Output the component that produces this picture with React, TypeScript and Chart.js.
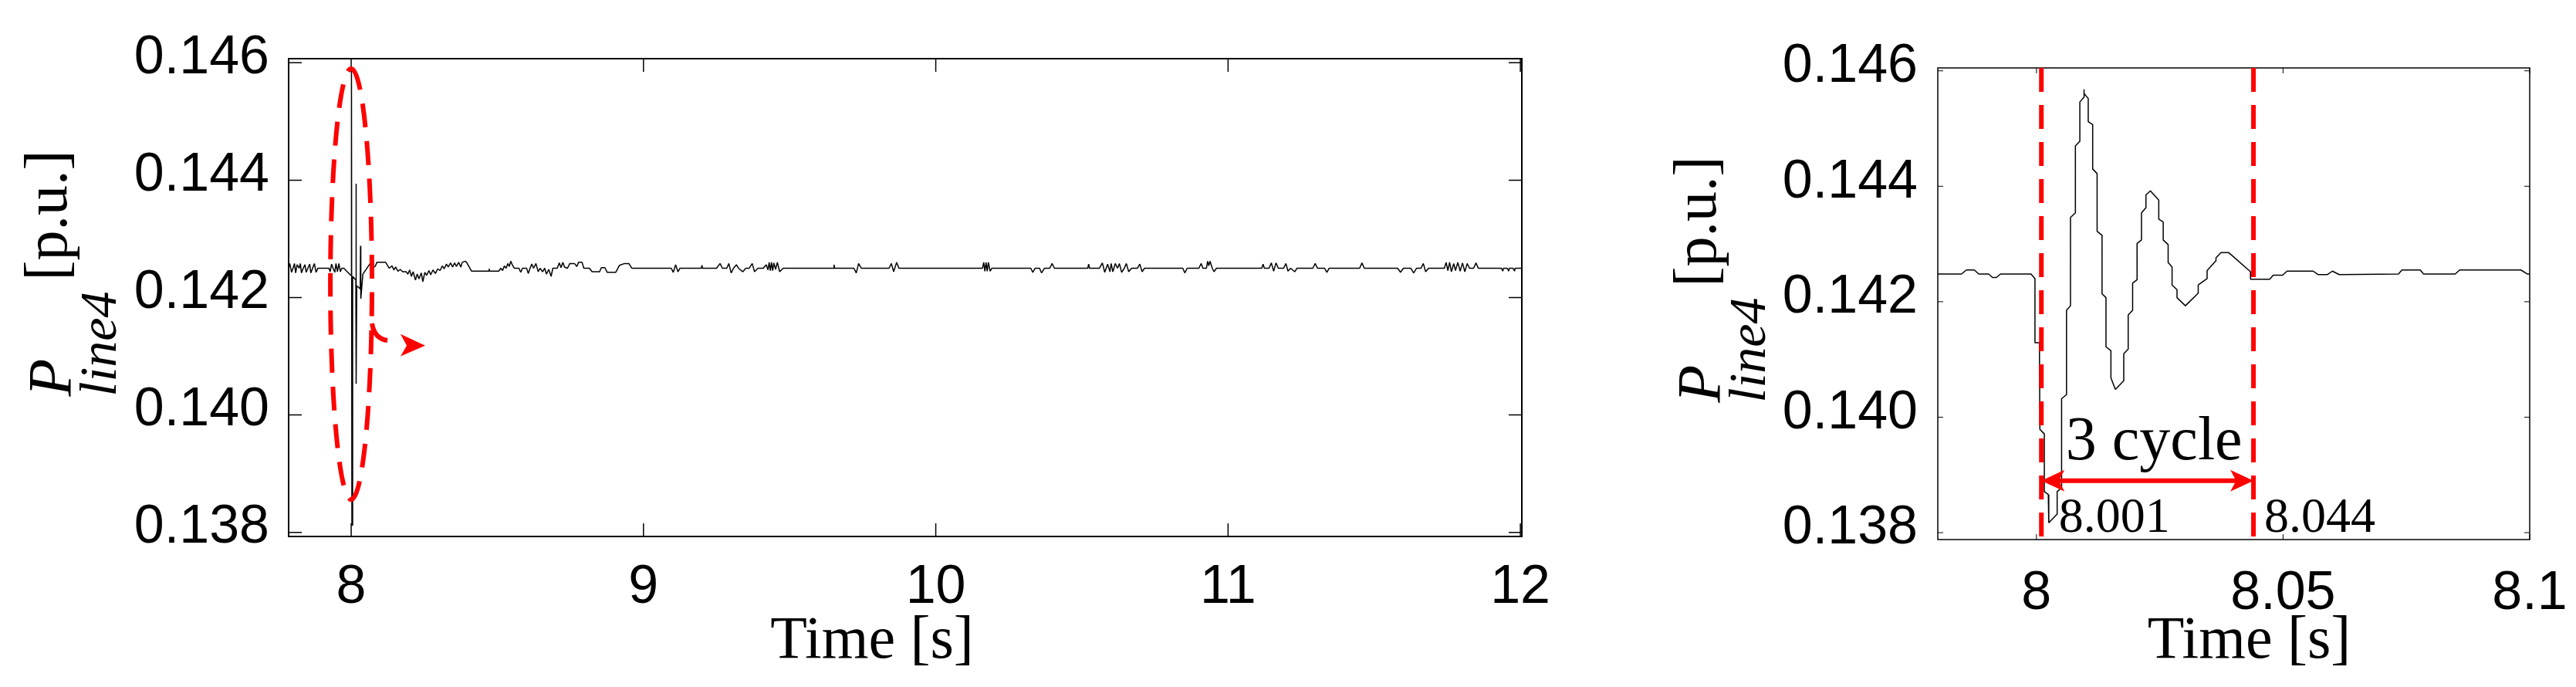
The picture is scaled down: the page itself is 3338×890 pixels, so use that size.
import React, { useEffect, useRef } from 'react';
import { Chart, registerables } from 'chart.js';

Chart.register(...registerables);

const SANS = "'Liberation Sans', Arial, sans-serif";
const SERIF = "'Liberation Serif', 'Times New Roman', serif";
const RED = '#ff0000';

// ---------- data: overview (7.8 s .. 12 s), pairs of [time s, P p.u.] ----------
const overviewBefore: [number, number][] = [
  [7.786, 0.1425], [7.79, 0.14258], [7.796, 0.14243], [7.801, 0.1425], [7.806, 0.14258], [7.81, 0.14242],
  [7.815, 0.14256], [7.822, 0.1425], [7.826, 0.14258], [7.83, 0.14242], [7.836, 0.1425], [7.842, 0.14256],
  [7.846, 0.14243], [7.852, 0.1425], [7.858, 0.14257], [7.862, 0.14242], [7.868, 0.1425], [7.874, 0.14258],
  [7.88, 0.14243], [7.886, 0.1425], [7.924, 0.1425], [7.928, 0.14244], [7.933, 0.14257], [7.938, 0.1425],
  [7.944, 0.14243], [7.948, 0.14258], [7.953, 0.14244], [7.958, 0.14258], [7.963, 0.14244], [7.968, 0.1425],
  [7.975, 0.1425], [7.998, 0.14238],
];
const overviewFault: [number, number][] = [
  [8.0, 0.14238], [8.001, 0.14592], [8.0025, 0.13812], [8.005, 0.14236], [8.016, 0.1423], [8.0165, 0.14394],
  [8.0175, 0.14053], [8.019, 0.1422], [8.031, 0.14215], [8.032, 0.14288], [8.033, 0.14198], [8.04, 0.1424],
  [8.065, 0.14258],
];
const overviewAfter: [number, number][] = [
  [8.07, 0.14259], [8.075, 0.14252], [8.082, 0.14253], [8.088, 0.1426], [8.118, 0.1426], [8.13, 0.1425],
  [8.14, 0.14254], [8.146, 0.14247], [8.152, 0.14252], [8.16, 0.14245], [8.168, 0.14248], [8.176, 0.14244],
  [8.188, 0.14244], [8.194, 0.1424], [8.2, 0.14247], [8.206, 0.14236], [8.212, 0.14244], [8.22, 0.1423],
  [8.226, 0.1424], [8.232, 0.14232], [8.24, 0.14242], [8.245, 0.14227], [8.252, 0.14243], [8.258, 0.14238],
  [8.266, 0.14246], [8.272, 0.14239], [8.28, 0.14247], [8.288, 0.14241], [8.296, 0.14249], [8.304, 0.14246],
  [8.312, 0.14254], [8.318, 0.14249], [8.326, 0.14257], [8.332, 0.14252], [8.34, 0.14259], [8.347, 0.14252],
  [8.354, 0.14259], [8.36, 0.14253], [8.368, 0.1426], [8.375, 0.14252], [8.38, 0.1426], [8.39, 0.14262],
  [8.395, 0.1426], [8.412, 0.14245], [8.47, 0.14245], [8.472, 0.14249], [8.474, 0.14245], [8.505, 0.14245],
  [8.512, 0.1425], [8.518, 0.14246], [8.524, 0.14254], [8.53, 0.1425], [8.536, 0.14258], [8.541, 0.14253],
  [8.546, 0.14262], [8.552, 0.14255], [8.558, 0.1425], [8.574, 0.1425], [8.58, 0.14243], [8.586, 0.1425],
  [8.6, 0.1425], [8.606, 0.14241], [8.612, 0.1425], [8.618, 0.14257], [8.624, 0.1425], [8.632, 0.14258],
  [8.64, 0.14244], [8.646, 0.1425], [8.655, 0.14244], [8.662, 0.1425], [8.668, 0.1424], [8.676, 0.14248],
  [8.684, 0.14236], [8.69, 0.1425], [8.705, 0.1425], [8.712, 0.14259], [8.718, 0.14251], [8.724, 0.1426],
  [8.73, 0.14252], [8.74, 0.1425], [8.748, 0.14258], [8.764, 0.14258], [8.772, 0.14253], [8.778, 0.1426],
  [8.79, 0.1426], [8.796, 0.1425], [8.815, 0.1425], [8.824, 0.14244], [8.85, 0.14244], [8.856, 0.14251],
  [8.868, 0.14251], [8.876, 0.14243], [8.905, 0.14243], [8.918, 0.14255], [8.935, 0.14258], [8.95, 0.14258],
  [8.96, 0.1425], [9.095, 0.1425], [9.102, 0.14243], [9.11, 0.14256], [9.118, 0.14244], [9.125, 0.1425],
  [9.198, 0.1425], [9.2, 0.14255], [9.202, 0.1425], [9.25, 0.1425], [9.262, 0.14258], [9.27, 0.1425],
  [9.285, 0.1425], [9.292, 0.14258], [9.3, 0.14242], [9.308, 0.1425], [9.318, 0.14256], [9.325, 0.1425],
  [9.34, 0.14244], [9.35, 0.1425], [9.362, 0.1425], [9.372, 0.14258], [9.38, 0.14244], [9.392, 0.1425],
  [9.41, 0.1425], [9.42, 0.14256], [9.426, 0.14247], [9.43, 0.1426], [9.434, 0.14246], [9.438, 0.1426],
  [9.442, 0.14246], [9.446, 0.14259], [9.452, 0.14248], [9.458, 0.1426], [9.466, 0.14244], [9.478, 0.1425],
  [9.65, 0.1425], [9.652, 0.14256], [9.654, 0.1425], [9.72, 0.1425], [9.728, 0.14242], [9.736, 0.14258],
  [9.745, 0.1425], [9.84, 0.1425], [9.848, 0.14258], [9.856, 0.14244], [9.866, 0.1426], [9.874, 0.1425],
  [10.16, 0.1425], [10.164, 0.1426], [10.168, 0.14245], [10.172, 0.1426], [10.176, 0.14245], [10.18, 0.1426],
  [10.186, 0.14245], [10.192, 0.1425], [10.325, 0.1425], [10.332, 0.14243], [10.34, 0.1425], [10.355, 0.1425],
  [10.362, 0.14242], [10.372, 0.1425], [10.39, 0.1425], [10.398, 0.14258], [10.406, 0.1425], [10.52, 0.1425],
  [10.523, 0.14257], [10.526, 0.1425], [10.56, 0.1425], [10.57, 0.14259], [10.578, 0.14243], [10.588, 0.14257],
  [10.596, 0.14244], [10.6, 0.14258], [10.606, 0.14244], [10.614, 0.14258], [10.622, 0.1425], [10.628, 0.14258],
  [10.636, 0.14243], [10.645, 0.1425], [10.652, 0.14258], [10.66, 0.14244], [10.67, 0.1425], [10.69, 0.1425],
  [10.698, 0.14257], [10.706, 0.14244], [10.714, 0.1425], [10.845, 0.1425], [10.852, 0.14242], [10.86, 0.1425],
  [10.9, 0.1425], [10.908, 0.14258], [10.914, 0.1425], [10.926, 0.1425], [10.93, 0.14262], [10.934, 0.14254],
  [10.938, 0.14262], [10.946, 0.1425], [10.952, 0.14244], [10.96, 0.1425], [11.115, 0.1425], [11.12, 0.14257],
  [11.124, 0.1425], [11.14, 0.1425], [11.148, 0.14259], [11.156, 0.14245], [11.164, 0.14259], [11.172, 0.1425],
  [11.19, 0.1425], [11.198, 0.14258], [11.205, 0.14245], [11.214, 0.1425], [11.228, 0.14244], [11.236, 0.1425],
  [11.29, 0.1425], [11.298, 0.14258], [11.306, 0.1425], [11.33, 0.1425], [11.338, 0.14243], [11.346, 0.1425],
  [11.45, 0.1425], [11.458, 0.14259], [11.466, 0.1425], [11.58, 0.1425], [11.59, 0.14243], [11.6, 0.1425],
  [11.625, 0.1425], [11.635, 0.14242], [11.645, 0.1425], [11.66, 0.1425], [11.668, 0.14258], [11.676, 0.14244],
  [11.686, 0.1425], [11.74, 0.1425], [11.746, 0.1426], [11.752, 0.14246], [11.758, 0.1426], [11.764, 0.14244],
  [11.772, 0.14258], [11.778, 0.14246], [11.786, 0.1426], [11.794, 0.14245], [11.802, 0.14259], [11.81, 0.14244],
  [11.818, 0.14258], [11.826, 0.1425], [11.84, 0.1425], [11.848, 0.14259], [11.856, 0.1425], [11.935, 0.1425],
  [11.94, 0.14245], [11.942, 0.1425], [11.955, 0.1425], [11.96, 0.14245], [11.962, 0.1425], [11.975, 0.1425],
  [11.98, 0.14245], [11.982, 0.1425], [12.005, 0.1425],
];

// ---------- data: zoom (7.98 s .. 8.1 s) ----------
const zoomBefore: [number, number][] = [
  [7.98, 0.14248], [7.9848, 0.14248], [7.9858, 0.14255], [7.9874, 0.14255], [7.9883, 0.14248], [7.9903, 0.14248],
  [7.9911, 0.14242], [7.9919, 0.14242], [7.9927, 0.14248], [7.9989, 0.14248], [7.9997, 0.1424],
];
const zoomFault: [number, number][] = [
  [7.9997, 0.14129], [8.0006, 0.14129], [8.0007, 0.13979], [8.0016, 0.13971], [8.0016, 0.13871], [8.0024, 0.13866],
  [8.0025, 0.13817], [8.0042, 0.13832], [8.0042, 0.13871], [8.0051, 0.13878], [8.0051, 0.14032], [8.0061, 0.14039],
  [8.0061, 0.14185], [8.0069, 0.14193], [8.0069, 0.14346], [8.0079, 0.14354], [8.0079, 0.1447], [8.0088, 0.14478],
  [8.0088, 0.14546], [8.0096, 0.14554], [8.0096, 0.14568], [8.0097, 0.14561], [8.0105, 0.14552], [8.0105, 0.14512],
  [8.0114, 0.14507], [8.0114, 0.1443], [8.0123, 0.14422], [8.0123, 0.14322], [8.0133, 0.14315], [8.0133, 0.14214],
  [8.0141, 0.14207], [8.0141, 0.14122], [8.0151, 0.14115], [8.0151, 0.14068], [8.016, 0.14048], [8.0177, 0.14063],
  [8.0177, 0.1411], [8.0186, 0.14118], [8.0186, 0.14177], [8.0195, 0.14185], [8.0195, 0.14232], [8.0204, 0.14238],
  [8.0204, 0.14301], [8.0213, 0.14307], [8.0213, 0.14354], [8.0222, 0.14363], [8.0222, 0.14385], [8.0231, 0.14392],
  [8.0248, 0.14376], [8.0248, 0.14343], [8.0257, 0.14338], [8.0257, 0.14307], [8.0267, 0.14299], [8.0267, 0.14268],
  [8.0275, 0.1426], [8.0275, 0.14229], [8.0285, 0.14221], [8.0285, 0.14207], [8.0302, 0.14193], [8.0328, 0.14215],
  [8.0328, 0.14229], [8.0346, 0.1424], [8.0346, 0.14254], [8.0364, 0.14271], [8.0364, 0.14276], [8.0374, 0.14285],
  [8.039, 0.14285], [8.0434, 0.14252],
];
const zoomAfter: [number, number][] = [
  [8.0434, 0.14239], [8.0473, 0.14239], [8.048, 0.14246], [8.0499, 0.14246], [8.0508, 0.14253], [8.0561, 0.14253],
  [8.0571, 0.14247], [8.059, 0.14247], [8.06, 0.14253], [8.0614, 0.14247], [8.0734, 0.14248], [8.0741, 0.14255],
  [8.0778, 0.14255], [8.0785, 0.14248], [8.0849, 0.14248], [8.0858, 0.14255], [8.0982, 0.14255], [8.0995, 0.14248],
  [8.1, 0.14248],
];

// ---------- ticks / labels ----------
const overviewXTicks = [8, 9, 10, 11, 12];
const overviewXTickLabels = ['8', '9', '10', '11', '12'];
const zoomXTicks = [8, 8.05, 8.1];
const zoomXTickLabels = ['8', '8.05', '8.1'];
const powerTicks = [0.138, 0.14, 0.142, 0.144, 0.146];
const powerTickLabels = ['0.138', '0.140', '0.142', '0.144', '0.146'];
const overviewXRange = [7.786, 12.005];
const overviewYRange = [0.13793, 0.14607];
const zoomXRange = [7.98, 8.1];
const zoomYRange = [0.13788, 0.14605];

const xAxisTitle = 'Time [s]';
const yTitleSymbol = 'P';
const yTitleSubscript = 'line4';
const yTitleUnit = '[p.u.]';

// ---------- annotations (data units) ----------
const faultMarkers = [8.001, 8.044];
const faultMarkerLabels = ['8.001', '8.044'];
const faultMarkerLabelTimes = [8.00454, 8.04617];
const faultMarkerLabelLevel = 0.13801;
const durationLabel = '3 cycle';
const durationLabelAt = [8.00595, 0.13927];
const durationArrowLevel = 0.1389;
const ellipseCenter = [8.0, 0.14223];
const ellipseRadii = [0.0712, 0.00367];
const hookPath = [[8.0712, 0.14156], [8.0792, 0.1413], [8.124, 0.14127]];
const arrowTip = [8.2533, 0.14118];
const arrowBackTime = 8.1689;
const arrowBackLevels = [0.14138, 0.141];

type Pt = [number, number];

function toPx(chart: any, t: number, v: number): Pt {
  return [chart.scales.x.getPixelForValue(t), chart.scales.y.getPixelForValue(v)];
}

function drawFrame(chart: any, xTicks: number[], tickLen: number, lw: number) {
  const { ctx, chartArea: a, scales } = chart;
  ctx.save();
  ctx.strokeStyle = '#000';
  ctx.lineWidth = lw;
  ctx.strokeRect(a.left, a.top, a.right - a.left, a.bottom - a.top);
  ctx.lineWidth = Math.max(1, lw - 0.5);
  ctx.beginPath();
  for (const v of xTicks) {
    const p = scales.x.getPixelForValue(v);
    ctx.moveTo(p, a.bottom);
    ctx.lineTo(p, a.bottom - tickLen);
    ctx.moveTo(p, a.top);
    ctx.lineTo(p, a.top + tickLen);
  }
  for (const v of powerTicks) {
    const p = scales.y.getPixelForValue(v);
    ctx.moveTo(a.left, p);
    ctx.lineTo(a.left + tickLen, p);
    ctx.moveTo(a.right, p);
    ctx.lineTo(a.right - tickLen, p);
  }
  ctx.stroke();
  ctx.restore();
}

function drawTitles(chart: any, xTitleShift: number, xTitleDrop: number) {
  const { ctx, chartArea: a } = chart;
  ctx.save();
  ctx.fillStyle = '#000';
  ctx.textBaseline = 'alphabetic';
  ctx.textAlign = 'center';
  ctx.font = `78px ${SERIF}`;
  ctx.fillText(xAxisTitle, (a.left + a.right) / 2 + xTitleShift, a.bottom + xTitleDrop);
  ctx.textAlign = 'left';
  ctx.translate(a.left - 282, (a.top + a.bottom) / 2 + 128);
  ctx.rotate(-Math.PI / 2);
  ctx.font = `italic 80px ${SERIF}`;
  ctx.fillText(yTitleSymbol, 0, 0);
  ctx.font = `italic 68px ${SERIF}`;
  ctx.fillText(yTitleSubscript, 0, 58);
  ctx.font = `78px ${SERIF}`;
  ctx.fillText(yTitleUnit, 150, -6);
  ctx.restore();
}

function arrowHead(ctx: CanvasRenderingContext2D, tip: Pt, dir: number, len: number, half: number, notch: number) {
  ctx.beginPath();
  ctx.moveTo(tip[0], tip[1]);
  ctx.lineTo(tip[0] - dir * len, tip[1] - half);
  ctx.lineTo(tip[0] - dir * len * notch, tip[1]);
  ctx.lineTo(tip[0] - dir * len, tip[1] + half);
  ctx.closePath();
  ctx.fill();
}

const overviewPlugin = {
  id: 'overviewDecor',
  afterDatasetsDraw(chart: any) {
    const ctx = chart.ctx as CanvasRenderingContext2D;
    drawFrame(chart, overviewXTicks, 17, 2);
    drawTitles(chart, -43, 157);
    // dashed ellipse
    const c = toPx(chart, ellipseCenter[0], ellipseCenter[1]);
    const e = toPx(chart, ellipseCenter[0] + ellipseRadii[0], ellipseCenter[1] + ellipseRadii[1]);
    ctx.save();
    ctx.strokeStyle = RED;
    ctx.fillStyle = RED;
    ctx.lineWidth = 6;
    ctx.setLineDash([31, 18]);
    ctx.beginPath();
    ctx.ellipse(c[0], c[1], Math.abs(e[0] - c[0]), Math.abs(c[1] - e[1]), 0, -Math.PI / 2, Math.PI * 1.5);
    ctx.stroke();
    ctx.setLineDash([]);
    const h0 = toPx(chart, hookPath[0][0], hookPath[0][1]);
    const h1 = toPx(chart, hookPath[1][0], hookPath[1][1]);
    const h2 = toPx(chart, hookPath[2][0], hookPath[2][1]);
    ctx.beginPath();
    ctx.moveTo(h0[0], h0[1]);
    ctx.quadraticCurveTo(h1[0], h1[1], h2[0], h2[1]);
    ctx.stroke();
    const tip = toPx(chart, arrowTip[0], arrowTip[1]);
    const b1 = toPx(chart, arrowBackTime, arrowBackLevels[0]);
    const b2 = toPx(chart, arrowBackTime, arrowBackLevels[1]);
    ctx.beginPath();
    ctx.moveTo(tip[0], tip[1]);
    ctx.lineTo(b1[0], b1[1]);
    ctx.lineTo(b1[0] + (tip[0] - b1[0]) * 0.25, tip[1]);
    ctx.lineTo(b2[0], b2[1]);
    ctx.closePath();
    ctx.fill();
    ctx.restore();
  },
};

const zoomPlugin = {
  id: 'zoomDecor',
  afterDatasetsDraw(chart: any) {
    const ctx = chart.ctx as CanvasRenderingContext2D;
    const a = chart.chartArea;
    drawFrame(chart, zoomXTicks, 7, 1.5);
    drawTitles(chart, 20, 153);
    ctx.save();
    ctx.strokeStyle = RED;
    ctx.fillStyle = RED;
    ctx.lineWidth = 6;
    ctx.setLineDash([31, 17]);
    const xs = faultMarkers.map((t) => chart.scales.x.getPixelForValue(t));
    for (const x of xs) {
      ctx.beginPath();
      ctx.moveTo(x, a.top);
      ctx.lineTo(x, a.bottom + 2);
      ctx.stroke();
    }
    ctx.setLineDash([]);
    const ay = chart.scales.y.getPixelForValue(durationArrowLevel);
    ctx.beginPath();
    ctx.moveTo(xs[0] + 20, ay);
    ctx.lineTo(xs[1] - 20, ay);
    ctx.stroke();
    arrowHead(ctx, [xs[0], ay], -1, 30, 14, 0.75);
    arrowHead(ctx, [xs[1], ay], 1, 30, 14, 0.75);
    ctx.fillStyle = '#000';
    ctx.textAlign = 'left';
    ctx.textBaseline = 'alphabetic';
    ctx.font = `80px ${SERIF}`;
    const d = toPx(chart, durationLabelAt[0], durationLabelAt[1]);
    ctx.fillText(durationLabel, d[0], d[1]);
    ctx.font = `64px ${SERIF}`;
    faultMarkerLabels.forEach((lab, i) => {
      const p = toPx(chart, faultMarkerLabelTimes[i], faultMarkerLabelLevel);
      ctx.fillText(lab, p[0], p[1]);
    });
    ctx.restore();
  },
};

function buildConfig(opts: {
  points: [number, number][];
  xRange: number[];
  yRange: number[];
  xTicks: number[];
  xTickLabels: string[];
  axisWidth: number;
  axisHeight: number;
  padTop: number;
  padRight: number;
  xPad: number;
  yPad: number;
  yLabelOffset: number;
  plugin: any;
}): any {
  const zeroPad = (s: any) => {
    s.paddingLeft = 0;
    s.paddingRight = 0;
    s.paddingTop = 0;
    s.paddingBottom = 0;
  };
  return {
    type: 'line',
    data: {
      datasets: [
        {
          data: opts.points.map(([t, v]) => ({ x: t, y: v })),
          borderColor: '#000',
          borderWidth: 1.5,
          pointRadius: 0,
          tension: 0,
          fill: false,
          borderJoinStyle: 'bevel',
        },
      ],
    },
    options: {
      animation: false,
      responsive: false,
      devicePixelRatio: 1,
      events: [],
      layout: { padding: { left: 0, top: opts.padTop, right: opts.padRight, bottom: 0 } },
      plugins: { legend: { display: false }, tooltip: { enabled: false }, title: { display: false } },
      scales: {
        x: {
          type: 'linear',
          position: 'bottom',
          min: opts.xRange[0],
          max: opts.xRange[1],
          bounds: 'data',
          grid: { display: false },
          border: { display: false },
          ticks: {
            autoSkip: false,
            maxRotation: 0,
            minRotation: 0,
            padding: opts.xPad,
            color: '#000',
            font: { family: SANS, size: 70 },
            callback: (_v: any, i: number) => opts.xTickLabels[i],
          },
          afterBuildTicks: (s: any) => {
            s.ticks = opts.xTicks.map((value) => ({ value }));
          },
          afterFit: (s: any) => {
            s.height = opts.axisHeight;
            zeroPad(s);
          },
        },
        y: {
          type: 'linear',
          position: 'left',
          min: opts.yRange[0],
          max: opts.yRange[1],
          bounds: 'data',
          grid: { display: false },
          border: { display: false },
          ticks: {
            autoSkip: false,
            padding: opts.yPad,
            labelOffset: opts.yLabelOffset,
            color: '#000',
            font: { family: SANS, size: 70 },
            callback: (_v: any, i: number) => powerTickLabels[i],
          },
          afterBuildTicks: (s: any) => {
            s.ticks = powerTicks.map((value) => ({ value }));
          },
          afterFit: (s: any) => {
            s.width = opts.axisWidth;
            zeroPad(s);
          },
        },
      },
    },
    plugins: [opts.plugin],
  };
}

export default function App() {
  const leftRef = useRef<HTMLCanvasElement | null>(null);
  const rightRef = useRef<HTMLCanvasElement | null>(null);

  useEffect(() => {
    const left = new Chart(
      leftRef.current as HTMLCanvasElement,
      buildConfig({
        points: [...overviewBefore, ...overviewFault, ...overviewAfter],
        xRange: overviewXRange,
        yRange: overviewYRange,
        xTicks: overviewXTicks,
        xTickLabels: overviewXTickLabels,
        axisWidth: 374,
        axisHeight: 195,
        padTop: 76,
        padRight: 178,
        xPad: 17,
        yPad: 17,
        yLabelOffset: -6,
        plugin: overviewPlugin,
      })
    );
    const right = new Chart(
      rightRef.current as HTMLCanvasElement,
      buildConfig({
        points: [...zoomBefore, ...zoomFault, ...zoomAfter],
        xRange: zoomXRange,
        yRange: zoomYRange,
        xTicks: zoomXTicks,
        xTickLabels: zoomXTickLabels,
        axisWidth: 361,
        axisHeight: 191,
        padTop: 88,
        padRight: 60,
        xPad: 21,
        yPad: 18,
        yLabelOffset: -5,
        plugin: zoomPlugin,
      })
    );
    return () => {
      left.destroy();
      right.destroy();
    };
  }, []);

  return (
    <div style={{ position: 'absolute', left: 0, top: 0, width: 3338, height: 890, background: '#fff' }}>
      <canvas
        ref={leftRef}
        width={2150}
        height={890}
        style={{ position: 'absolute', left: 0, top: 0, width: 2150, height: 890 }}
      />
      <canvas
        ref={rightRef}
        width={1188}
        height={890}
        style={{ position: 'absolute', left: 2150, top: 0, width: 1188, height: 890 }}
      />
    </div>
  );
}
